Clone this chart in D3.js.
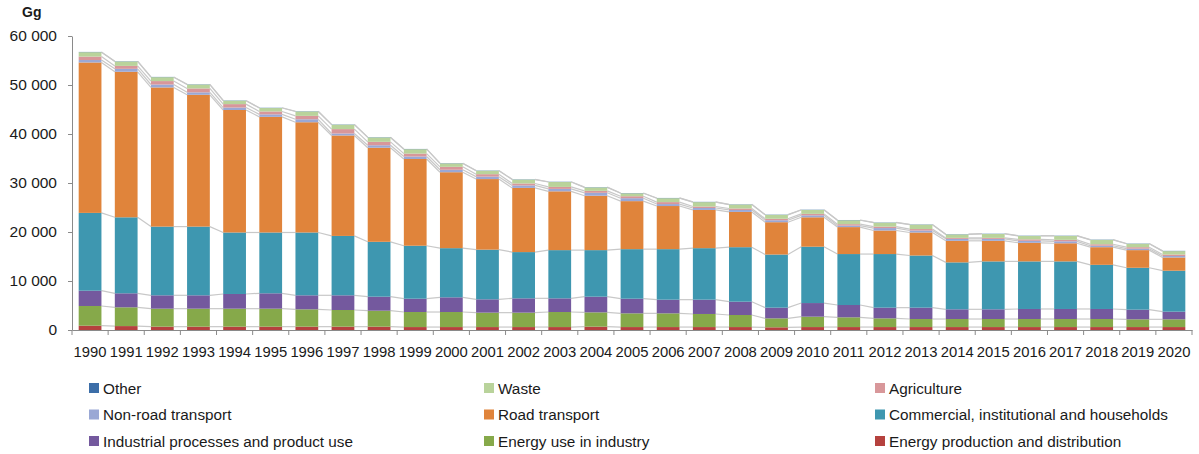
<!DOCTYPE html>
<html>
<head>
<meta charset="utf-8">
<script src="https://cdn.jsdelivr.net/npm/d3@7"></script>
<style>
  body { margin: 0; background: #fff; }
  text { font-family: "Liberation Sans", Arial, sans-serif; fill: #1a1a1a; }
</style>
</head>
<body>
<div id="chart"></div>
<script>
var width = 1199
var height = 454

// emissions in Gg, one array per sector (bottom of the stack first)
var years = d3.range(1990, 2021).map(String)

var energyProd = [880,800,680,680,680,680,680,680,680,600,600,600,600,600,680,600,600,600,600,550,600,600,600,600,600,600,600,600,600,600,600]
var energyInd = [4020,3830,3670,3670,3670,3670,3540,3400,3260,3070,3070,2940,2940,3070,2920,2800,2800,2670,2460,1830,2120,1990,1780,1640,1640,1640,1640,1640,1640,1580,1580]
var industrial = [3120,2860,2730,2730,3000,3140,2860,3000,2860,2720,3000,2720,2920,2790,3200,2990,2790,2920,2720,2180,2780,2510,2180,2320,1980,1980,2050,2050,2050,1970,1560]
var commercial = [15880,15510,14020,14020,12550,12410,12820,12120,11200,10810,10030,10140,9440,9840,9500,10110,10310,10510,11120,10840,11500,10400,10940,10640,9580,9780,9710,9710,9010,8550,8360]
var road = [30700,29700,28400,26900,25000,23600,22500,20500,19200,17700,15500,14400,13100,12000,11100,9800,8800,7800,7200,6600,6000,5500,4800,4700,4400,4200,3800,3700,3600,3600,2700]
var nonRoad = [500,600,600,500,500,500,600,400,500,500,500,500,500,500,600,600,400,400,400,400,400,300,500,400,400,400,400,400,300,300,300]
var agriculture = [700,600,700,800,700,600,700,900,700,600,600,500,400,400,400,400,400,300,300,300,300,300,300,300,200,200,300,300,300,300,300]
var waste = [900,900,800,800,700,700,900,900,900,900,700,700,800,1000,700,600,800,900,800,800,800,800,800,900,700,800,700,800,900,700,700]
var other = [50,50,50,50,50,50,50,50,50,50,50,50,50,50,50,50,50,50,50,50,50,50,50,50,50,50,50,50,50,50,50]

var series = [
    {key: "Energy production and distribution", values: energyProd, color: "#b5413e"},
    {key: "Energy use in industry", values: energyInd, color: "#86a94a"},
    {key: "Industrial processes and product use", values: industrial, color: "#74599e"},
    {key: "Commercial, institutional and households", values: commercial, color: "#3e97b0"},
    {key: "Road transport", values: road, color: "#e0843b"},
    {key: "Non-road transport", values: nonRoad, color: "#9aa8d5"},
    {key: "Agriculture", values: agriculture, color: "#d8979a"},
    {key: "Waste", values: waste, color: "#b9d39b"},
    {key: "Other", values: other, color: "#3c6ea8"}
]

var yTicks = [0, 10000, 20000, 30000, 40000, 50000, 60000]

// legend reads left to right, top series first
var legendOrder = ["Other", "Waste", "Agriculture",
    "Non-road transport", "Road transport", "Commercial, institutional and households",
    "Industrial processes and product use", "Energy use in industry", "Energy production and distribution"]

var rows = years.map(function(y, i){
    var r = {year: y}
    series.forEach(function(s){ r[s.key] = s.values[i] })
    return r
})

var stacked = d3.stack().keys(series.map(s => s.key))(rows)

var x = d3.scaleBand()
    .domain(years)
    .range([72, 1192])
    .paddingInner(0.37)
    .paddingOuter(0.185)

var y = d3.scaleLinear()
    .domain([0, 60000])
    .range([330, 36])

var fmt = d3.formatLocale({decimal: ",", thousands: " ", grouping: [3], currency: ["", ""]}).format(",")

var svg = d3.select("#chart")
    .append("svg")
    .attr("width", width)
    .attr("height", height)

// series lines between neighbouring bars
var lines = svg.append("g")
stacked.forEach(function(layer){
    for (var i = 0; i < layer.length - 1; i++) {
        lines.append("line")
            .attr("x1", x(years[i]) + x.bandwidth())
            .attr("y1", y(layer[i][1]))
            .attr("x2", x(years[i + 1]))
            .attr("y2", y(layer[i + 1][1]))
            .attr("stroke", "#c8c8c8")
            .attr("stroke-width", 1.2)
    }
})

svg.append("g")
    .selectAll("g")
    .data(stacked)
    .enter()
    .append("g")
    .attr("fill", (d, i) => series[i].color)
    .selectAll("rect")
    .data(d => d)
    .enter()
    .append("rect")
    .attr("x", d => x(d.data.year))
    .attr("width", x.bandwidth())
    .attr("y", d => y(d[1]))
    .attr("height", d => y(d[0]) - y(d[1]))

// y axis
var yAxis = svg.append("g")
    .attr("transform", "translate(72,0)")
    .call(d3.axisLeft(y).tickValues(yTicks).tickFormat(fmt).tickSizeInner(4).tickSizeOuter(0).tickPadding(11))
yAxis.select(".domain").attr("stroke", "#8a8a8a")
yAxis.selectAll(".tick line").attr("stroke", "#8a8a8a")
yAxis.selectAll(".tick text")
    .style("font-size", "15.5px")
    .attr("fill", "#1a1a1a")

// x axis, ticks sit between categories
var step = x.step()
var xAxis = svg.append("g")
    .attr("transform", "translate(0,330)")
    .call(d3.axisBottom(x).tickSize(0).tickPadding(16))
xAxis.select(".domain").attr("stroke", "#8a8a8a")
xAxis.selectAll(".tick text")
    .style("font-size", "14.8px")
    .attr("fill", "#1a1a1a")
xAxis.selectAll(".sep")
    .data(d3.range(years.length + 1))
    .enter()
    .append("line")
    .attr("x1", i => 72 + i * step)
    .attr("x2", i => 72 + i * step)
    .attr("y1", 0)
    .attr("y2", 5)
    .attr("stroke", "#8a8a8a")

svg.append("text")
    .attr("x", 22)
    .attr("y", 17)
    .style("font-size", "14px")
    .style("font-weight", "bold")
    .text("Gg")

// legend
var colX = [89, 484, 875]
var rowY = [388, 414.5, 441]
var legend = svg.append("g")
legendOrder.forEach(function(name, i){
    var s = series.find(d => d.key == name)
    var g = legend.append("g")
        .attr("transform", "translate(" + colX[i % 3] + "," + rowY[Math.floor(i / 3)] + ")")
    g.append("rect")
        .attr("x", 0)
        .attr("y", -5)
        .attr("width", 10)
        .attr("height", 10)
        .attr("fill", s.color)
    g.append("text")
        .attr("x", 14)
        .attr("y", 5.5)
        .style("font-size", "15.3px")
        .text(name)
})
</script>
</body>
</html>
